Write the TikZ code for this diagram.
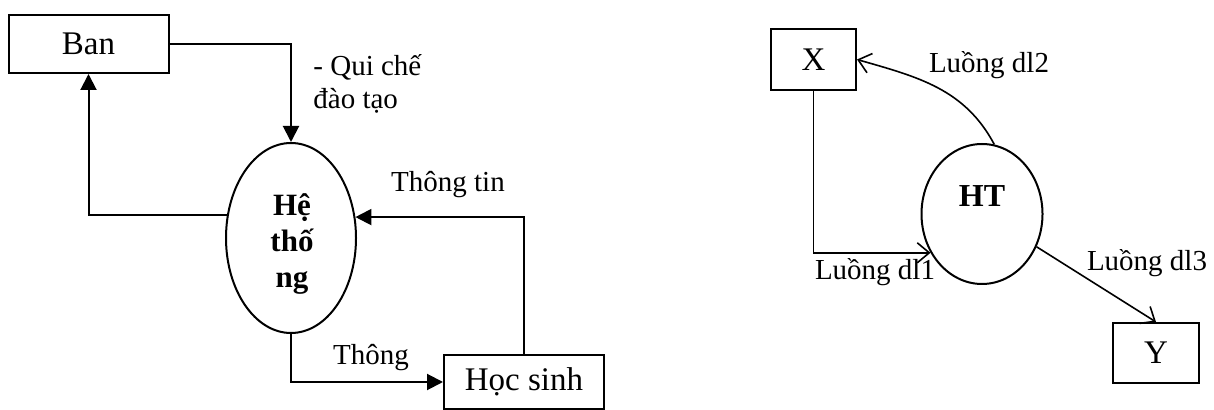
\documentclass[tikz,border=0pt]{standalone}
\usepackage{fontspec}
\setmainfont{Liberation Serif}
\usetikzlibrary{shapes.geometric,arrows.meta}
\begin{document}
\begin{tikzpicture}[x=0.5pt, y=-0.5pt,
    box/.style={draw, line width=1pt, inner sep=0pt,
      font=\fontsize{16.5}{19}\selectfont},
    proc/.style={draw, ellipse, line width=1pt, inner sep=0pt},
    proctext/.style={font=\fontsize{15.5}{18}\selectfont\bfseries, align=center},
    lbl/.style={font=\fontsize{14.5}{16.5}\selectfont, inner sep=0pt},
    tri/.style={line width=1pt, -{Triangle[length=8pt, width=8pt]}},
    barb/.style={line width=0.8pt, -{Straight Barb[length=6pt, width=10pt]}},
  ]
  \useasboundingbox (0,0) rectangle (1214,410);
  \clip (0,0) rectangle (1214,410);

  % Left diagram
  \node[box, minimum width=80pt, minimum height=29pt] (ban) at (88.5,44) {Ban};
  \node[proc, minimum width=65pt, minimum height=95pt] (sys) at (291,238) {};
  \node[proctext] (sysname) at (292,244) {Hệ\\thố\\ng};
  \node[box, minimum width=80pt, minimum height=27pt] (hs) at (524,382) {Học sinh};

  \node[lbl, align=left, anchor=west] (qc) at (313,84) {- Qui chế\\đào tạo};
  \node[lbl] (tt) at (448,185) {Thông tin};
  \node[lbl] (th) at (371,358) {Thông};

  \draw[tri] (ban.east) -| (sys.north);
  \draw[tri] (sys.160) -| (ban.south);
  \draw[tri] (hs.north) |- (sys.18);
  \draw[tri] (sys.south) |- (hs.west);

  % Right diagram
  \node[box, minimum width=42.5pt, minimum height=30.5pt] (x) at (813.5,59.5) {X};
  \node[box, minimum width=43pt, minimum height=30pt] (y) at (1156,353) {Y};
  \node[proc, minimum width=60.5pt, minimum height=70pt] (ht) at (982,214) {};
  \node[proctext, font=\fontsize{16}{18}\selectfont\bfseries] (htname) at (982,196) {HT};

  \node[lbl] (dl1) at (875,272) {Luồng dl1};
  \node[lbl] (dl2) at (989,65) {Luồng dl2};
  \node[lbl] (dl3) at (1147,263) {Luồng dl3};

  \draw[barb] (x.south) |- (ht.217);
  \draw[barb] (ht.80) to[out=118, in=-16] (x.east);
  \draw[barb] (ht.-31) -- (y.north);
\end{tikzpicture}
\end{document}
